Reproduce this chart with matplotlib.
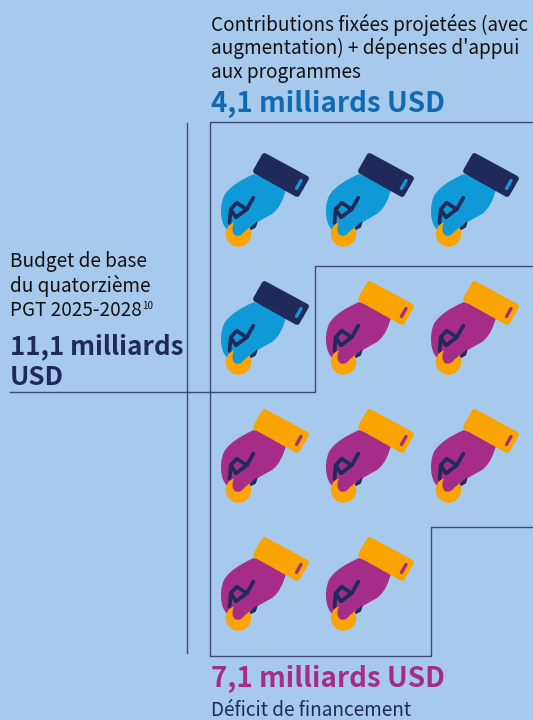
import matplotlib
matplotlib.use('Agg')
import matplotlib.pyplot as plt
from matplotlib.patches import Circle, PathPatch, Polygon
from matplotlib.path import Path
from matplotlib.transforms import Affine2D

# budget figures, in billions of USD
budget_total = 11.1
contributions = 4.1
funding_gap = 7.1

total_lines = ["11,1 milliards", "USD"]
contributions_label = "4,1 milliards USD"
gap_label = "7,1 milliards USD"
budget_lines = ["Budget de base", "du quatorzième", "PGT 2025-2028"]
contrib_lines = ["Contributions fixées projetées (avec", "augmentation) + dépenses d'appui", "aux programmes"]
gap_caption = "Déficit de financement"

BG = '#A7CAEC'
NAVY = '#1F2A5A'
LINE = '#3C4A80'
BLUE = '#0F9AD7'
MAGENTA = '#A52D87'
ORANGE = '#F9A400'
BLUE_TEXT = '#1069B1'
BODY_SIZE = 13.65
HEAD_SIZE = 20.0
TOTAL_SIZE = 18.7

plt.rcParams['font.family'] = ['Noto Sans CJK JP', 'DejaVu Sans']

M, L, C, Z = Path.MOVETO, Path.LINETO, Path.CURVE4, Path.CLOSEPOLY


def draw_icon(ax, x0, y0, hand, cuff):
	# hand holding a coin, local coordinates in pixels
	t = Affine2D().translate(x0, y0) + ax.transData
	body = Path(
		[(44, 44), (30, 50), (18, 58), (14, 66), (11, 72), (10, 82), (12, 90), (13, 95), (16, 100), (20, 102),
		 (40, 97), (47, 92), (55, 88), (62, 84), (70, 78), (74, 68), (77, 56), (44, 44)],
		[M, C, C, C, C, C, C, C, C, C, L, C, C, C, C, C, C, Z])
	ax.add_patch(PathPatch(body, fc=hand, ec='none', transform=t, zorder=3))
	ax.add_patch(Polygon([(40, 98), (47, 92), (45.5, 97), (41, 99.5)], fc=NAVY, ec=NAVY, lw=0.8, transform=t, zorder=4))
	ax.add_patch(Circle((28.5, 104), 12.7, fc=ORANGE, ec='none', transform=t, zorder=5))
	finger = Path(
		[(24, 92), (21.5, 98), (22, 103), (25, 105), (28, 107), (32, 105), (34, 102), (40, 97), (44, 90), (30, 82), (24, 92)],
		[M, C, C, C, C, C, C, L, L, L, Z])
	ax.add_patch(PathPatch(finger, fc=hand, ec='none', transform=t, zorder=6))
	ax.plot([43.3, 36.7, 26.7, 20.7, 26, 36.7], [67.7, 79.3, 72.7, 79.3, 87.3, 79.3], color=NAVY, lw=2.7,
		solid_capstyle='round', solid_joinstyle='round', transform=t, zorder=7)
	ax.plot([20.7, 19.5], [79.3, 93], color=NAVY, lw=2.7, solid_capstyle='round', transform=t, zorder=4)
	# cuff with its small button
	ax.add_patch(Polygon([(54.5, 26), (96, 48.5), (87, 64), (46, 41)], fc=cuff, ec=cuff, lw=4.2,
		joinstyle='round', transform=t, zorder=8))
	ax.plot([86.5, 91], [58.5, 50.5], color=hand, lw=2.4, solid_capstyle='round', transform=t, zorder=9)


fig = plt.figure(figsize=(5.33, 7.2), dpi=100, facecolor=BG)
ax = fig.add_axes([0, 0, 1, 1])
ax.set_xlim(0, 533)
ax.set_ylim(720, 0)
ax.axis('off')

# one icon per billion, three to a row, contributions first
n_funded = round(contributions)
n_gap = round(funding_gap)
for i in range(n_funded + n_gap):
	row, col = divmod(i, 3)
	if i < n_funded:
		draw_icon(ax, 210 + 105 * col, 130 + 128 * row, BLUE, NAVY)
	else:
		draw_icon(ax, 210 + 105 * col, 130 + 128 * row, MAGENTA, ORANGE)

# brace lines and the stepped outline around both groups
lw = 1.0
ax.plot([187, 187], [123, 653], color=LINE, lw=lw)
ax.plot([10, 210], [392, 392], color=LINE, lw=lw)
ax.plot([533, 210, 210, 431, 431, 533], [122, 122, 656, 656, 527, 527], color=LINE, lw=lw)
ax.plot([210, 315, 315, 533], [392, 392, 266, 266], color=LINE, lw=lw)

# text blocks
for y, s in zip([31, 54, 78], contrib_lines):
	ax.text(211, y, s, fontsize=BODY_SIZE, color='#111111', va='baseline', ha='left')
ax.text(211, 112, contributions_label, fontsize=HEAD_SIZE, weight='bold', color=BLUE_TEXT, va='baseline', ha='left')

for y, s in zip([267, 292, 316], budget_lines):
	ax.text(10, y, s, fontsize=BODY_SIZE, color='#111111', va='baseline', ha='left')
ax.text(142.5, 309, "10", fontsize=7, color='#111111', va='baseline', ha='left')
ax.text(10, 354, total_lines[0], fontsize=TOTAL_SIZE, weight='bold', color=NAVY, va='baseline', ha='left')
ax.text(10, 385, total_lines[1], fontsize=TOTAL_SIZE, weight='bold', color=NAVY, va='baseline', ha='left')

ax.text(211, 687, gap_label, fontsize=HEAD_SIZE, weight='bold', color=MAGENTA, va='baseline', ha='left')
ax.text(211, 715.5, gap_caption, fontsize=BODY_SIZE, color=NAVY, va='baseline', ha='left')

fig.savefig('out.png', dpi=100, facecolor=BG)
plt.close()
